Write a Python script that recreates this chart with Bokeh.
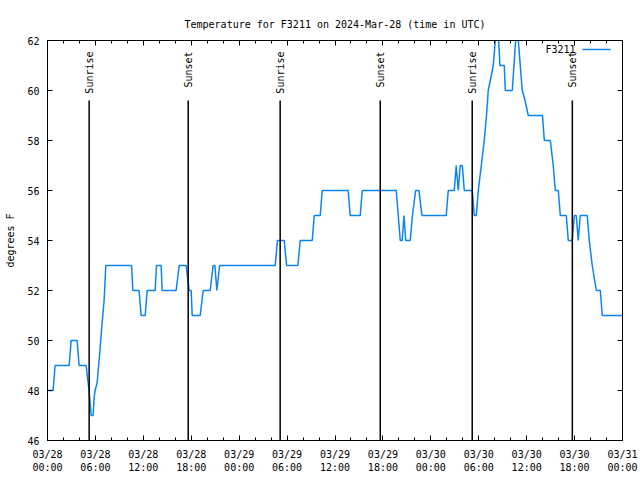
import math
import pandas as pd
from bokeh.plotting import figure
from bokeh.models import (Range1d, FixedTicker, DatetimeTickFormatter, DatetimeAxis,
                          LinearAxis, Label, Arrow, CustomJSTickFormatter)
from bokeh.core.properties import value
from bokeh.embed import file_html
from bokeh.resources import INLINE

# ---------------- data ----------------
start_time = "2024-03-28 00:00"
station = "F3211"

# hours since 03/28 00:00 UTC and temperature (deg F)
hours = [0.00, 0.70, 0.95, 2.71, 2.96, 3.71, 3.96, 4.84, 5.01, 5.21, 5.34, 5.46,
         5.71, 5.84, 5.96, 6.21, 6.46, 6.59, 6.84, 7.09, 7.30,
         10.52, 10.69, 11.47, 11.72, 12.23, 12.48, 13.48, 13.65, 14.23, 14.36,
         16.11, 16.49, 17.36, 17.74, 17.99, 18.12, 19.12, 19.49, 20.37, 20.74,
         20.96, 21.21, 21.55, 28.51, 28.79, 29.64, 29.94, 31.35, 31.64, 33.15,
         33.40, 34.15, 34.40, 37.65, 37.90, 39.16, 39.41, 43.67, 44.17, 44.42,
         44.63, 44.86, 45.42, 45.70, 46.10, 46.51, 46.89, 49.93, 50.18, 50.93,
         51.18, 51.43, 51.68, 51.94, 52.19, 53.19, 53.44, 53.69, 53.94, 54.32,
         54.69, 54.97, 55.19, 55.82, 56.07, 56.28, 56.49, 56.65, 57.20, 57.32,
         58.20, 58.41, 58.62, 58.79, 58.95, 59.20, 59.45, 59.80, 60.20, 61.98,
         62.21, 62.96, 63.33, 63.58, 63.96, 64.21, 64.96, 65.21, 65.71, 65.96,
         66.21, 66.46, 66.71, 67.59, 67.84, 68.21, 68.72, 69.22, 69.47, 72.00]
temps = [48, 48, 49, 49, 50, 50, 49, 49, 48.5, 48, 47.5, 47,
         47, 47.7, 48, 48.3, 49.2, 49.7, 50.7, 51.6, 53,
         53, 52, 52, 51, 51, 52, 52, 53, 53, 52,
         52, 53, 53, 52, 52, 51, 51, 52, 52, 53,
         53, 52, 53, 53, 54, 54, 53, 53, 54, 54,
         55, 55, 56, 56, 55, 55, 56, 56, 54, 54,
         55, 54, 54, 55, 56, 56, 55, 55, 56, 56,
         57, 56, 57, 57, 56, 56, 55, 55, 56, 57,
         58, 59, 60, 61, 62, 63, 62, 61, 61, 60,
         60, 61, 62, 63, 62, 61, 60, 59.6, 59, 59,
         58, 58, 57, 56, 56, 55, 55, 54, 54, 55,
         55, 54, 55, 55, 54, 53, 52, 52, 51, 51]

sun_events = ["Sunrise", "Sunset", "Sunrise", "Sunset", "Sunrise", "Sunset"]
sun_times = ["2024-03-28 05:13", "2024-03-28 17:37", "2024-03-29 05:08",
             "2024-03-29 17:40", "2024-03-30 05:11", "2024-03-30 17:43"]

y_min, y_max = 46, 62
y_ticks = [46, 48, 50, 52, 54, 56, 58, 60, 62]

# ---------------- build ----------------
FONT = "DejaVu Sans Mono"
FS = "10px"
BLUE = "#0a84f0"

t0 = pd.Timestamp(start_time)
t1 = t0 + pd.Timedelta(hours=72)
times = [t0 + pd.Timedelta(hours=h) for h in hours]
sun_x = [pd.Timestamp(s) for s in sun_times]

def ms(ts):
    return ts.value / 1e6

major = [ms(t0 + pd.Timedelta(hours=h)) for h in range(0, 73, 6)]
minor = [ms(t0 + pd.Timedelta(hours=h)) for h in range(0, 73, 2)]

p = figure(width=640, height=480, x_axis_type="datetime",
           x_range=Range1d(t0, t1), y_range=Range1d(y_min, y_max),
           output_backend="svg", toolbar_location=None,
           min_border_left=47, min_border_right=18,
           min_border_top=40, min_border_bottom=40)

p.title.text = f"Temperature for {station} on 2024-Mar-28 (time in UTC)"
p.title.align = "center"
p.title.text_font = FONT
p.title.text_font_size = FS
p.title.text_font_style = "normal"
p.title.text_color = "black"
p.title.standoff = 22

p.xgrid.visible = False
p.ygrid.visible = False
p.outline_line_color = "black"
p.outline_line_width = 1
p.background_fill_color = "white"
p.border_fill_color = "white"

fmt = "%m/%d\n%H:%M"
formatter = DatetimeTickFormatter(milliseconds=fmt, seconds=fmt, minsec=fmt, minutes=fmt,
                                  hourmin=fmt, hours=fmt, days=fmt, months=fmt, years=fmt)
blank = CustomJSTickFormatter(code="return ''")
xticker = FixedTicker(ticks=major, minor_ticks=minor)
yticker = FixedTicker(ticks=y_ticks, minor_ticks=[])

def style_axis(ax):
    ax.axis_line_color = "black"
    ax.major_tick_line_color = "black"
    ax.minor_tick_line_color = "black"
    ax.major_tick_in = 5
    ax.major_tick_out = 0
    ax.minor_tick_in = 3
    ax.minor_tick_out = 0
    ax.major_label_text_font = FONT
    ax.major_label_text_font_size = FS
    ax.major_label_text_color = "black"

xa = p.xaxis[0]
xa.ticker = xticker
xa.formatter = formatter
style_axis(xa)
xa.major_label_standoff = 8

ya = p.yaxis[0]
ya.ticker = yticker
style_axis(ya)
ya.major_label_standoff = 8
ya.axis_label = "degrees F"
ya.axis_label_text_font = FONT
ya.axis_label_text_font_size = FS
ya.axis_label_text_font_style = "normal"
ya.axis_label_text_color = "black"
ya.axis_label_standoff = 8

# mirrored ticks on the top and right borders (no labels)
top = DatetimeAxis(ticker=xticker, formatter=blank)
style_axis(top)
top.major_label_standoff = 0
p.add_layout(top, "above")

right = LinearAxis(ticker=yticker, formatter=blank)
style_axis(right)
right.major_label_standoff = 0
p.add_layout(right, "right")

# temperature line
p.line(x=times, y=temps, line_color=BLUE, line_width=1.5)

# sunrise / sunset markers
p.segment(x0=sun_x, y0=[y_min] * len(sun_x), x1=sun_x, y1=[59.6] * len(sun_x),
          line_color="black", line_width=1.5)
p.text(x=sun_x, y=[y_max] * len(sun_x), text=sun_events, angle=math.pi / 2,
       text_align="right", text_baseline="middle", y_offset=11,
       text_font=value(FONT), text_font_size=FS, text_color="black")

# gnuplot-style key: text then line sample
p.add_layout(Label(x=528, y=391, x_units="screen", y_units="screen", text=station,
                   text_align="right", text_baseline="middle",
                   text_font=FONT, text_font_size=FS, text_color="black"))
p.add_layout(Arrow(x_start=535, y_start=391, x_end=563, y_end=391,
                   start_units="screen", end_units="screen", start=None, end=None,
                   line_color=BLUE, line_width=1.5))

open("out.html", "w").write(file_html(p, INLINE))
